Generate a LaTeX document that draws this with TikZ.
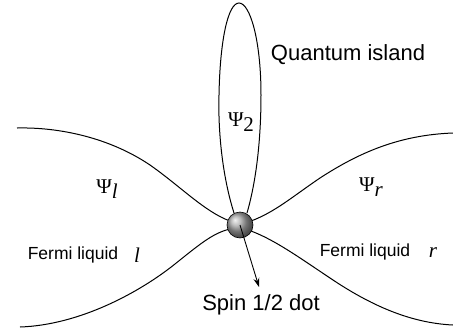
\documentclass[tikz,border=0pt]{standalone}
\usepackage{fontspec}
\setmainfont{Liberation Serif}
\setsansfont{Liberation Sans}
\usetikzlibrary{arrows.meta}
\begin{document}
\begin{tikzpicture}[x=1pt,y=-1pt,
  curve/.style={line width=1pt},
  sanslabel/.style={font=\sffamily\fontsize{22}{26}\selectfont, inner sep=0pt},
  smalllabel/.style={font=\sffamily\fontsize{17.5}{20}\selectfont, inner sep=0pt},
  psilabel/.style={font=\fontsize{21}{24}\selectfont, inner sep=0pt},
  italabel/.style={font=\itshape\fontsize{21}{24}\selectfont, inner sep=0pt}]
\useasboundingbox (0,0) rectangle (453,330);
% quantum island loop
\draw[curve] (234,213) .. controls (222,175) and (218,130) .. (219,95)
  .. controls (220,40) and (228,3) .. (239,3)
  .. controls (250,3) and (261,40) .. (261,95)
  .. controls (261,130) and (258,175) .. (247,213);
% left curves
\draw[curve] (17,128) .. controls (60,127) and (110,138) .. (150,165)
  .. controls (180,186) and (205,212) .. (230,221);
\draw[curve] (20,327) .. controls (80,325) and (140,292) .. (175,264)
  .. controls (200,244) and (213,233) .. (230,229);
% right curves
\draw[curve] (251,221) .. controls (275,212) and (292,197) .. (320,178)
  .. controls (360,152) and (400,135) .. (453,133);
\draw[curve] (251,231) .. controls (275,240) and (300,258) .. (330,278)
  .. controls (370,305) and (410,323) .. (453,325);
% spin dot
\node[circle, minimum size=26pt, inner sep=0pt, draw=black, line width=0.6pt,
  shading=ball, ball color=gray!70] (dot) at (240,225) {};
\node[sanslabel] (spin) at (261,305) {Spin 1/2 dot};
\coordinate (tip) at (259,287);
\draw[line width=0.9pt, -{Stealth[length=9pt,width=6pt]}] (dot.center) -- (tip);
% labels
\node[sanslabel] (qi) at (348,55) {Quantum island};
\node[psilabel] (psi2) at (241,122) {Ψ\raisebox{-0.25em}{2}};
\node[psilabel] (psil) at (107,189) {Ψ\raisebox{-0.25em}{\itshape l}};
\node[psilabel] (psir) at (371,187) {Ψ\raisebox{-0.25em}{\itshape r}};
\node[smalllabel] (fl) at (73,255) {Fermi liquid};
\node[italabel] (fll) at (137,255) {l};
\node[smalllabel] (fr) at (365,252) {Fermi liquid};
\node[italabel] (frr) at (433,253) {r};
\end{tikzpicture}
\end{document}
